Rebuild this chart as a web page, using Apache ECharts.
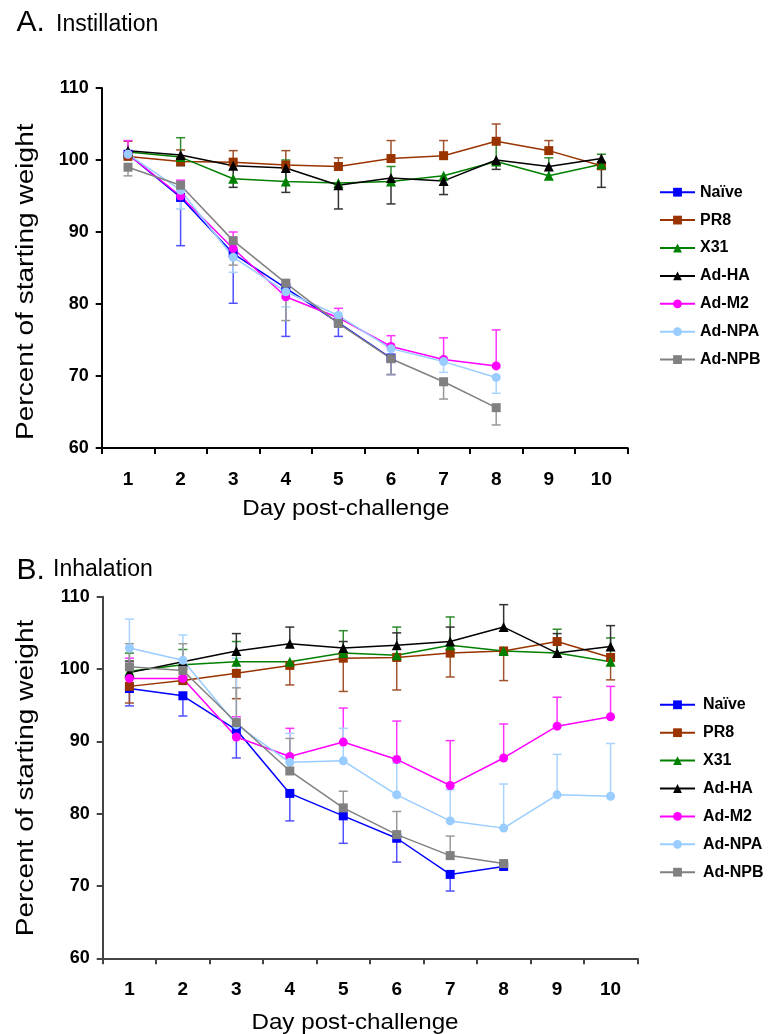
<!DOCTYPE html>
<html>
<head>
<meta charset="utf-8">
<script src="https://cdn.jsdelivr.net/npm/echarts@6/dist/echarts.min.js"></script>
<style>
html,body{margin:0;padding:0;background:#fff;}
#chart{width:768px;height:1034px;}
</style>
</head>
<body>
<div id="chart"></div>
<script>
// ---------- data ----------
const days = ['1','2','3','4','5','6','7','8','9','10'];
const yTicks = [60, 70, 80, 90, 100, 110];
const seriesNames = ['Naïve','PR8','X31','Ad-HA','Ad-M2','Ad-NPA','Ad-NPB'];

// Panel A: Instillation (mean values)
const instNaive = [100.8, 94.8, 87.0, 82.2, 77.4, 72.5, null, null, null, null];
const instPR8   = [100.5, 99.8, 99.7, 99.3, 99.1, 100.2, 100.6, 102.6, 101.3, 99.2];
const instX31   = [101.1, 100.4, 97.4, 97.0, 96.8, 97.0, 97.8, 99.8, 97.8, 99.4];
const instAdHA  = [101.3, 100.7, 99.2, 98.9, 96.5, 97.5, 97.1, 100.0, 99.1, 100.2];
const instAdM2  = [100.8, 95.0, 87.7, 81.0, 78.1, 74.1, 72.3, 71.4, null, null];
const instAdNPA = [100.8, 95.8, 86.5, 81.7, 78.4, 73.8, 72.0, 69.8, null, null];
const instAdNPB = [99.0, 96.5, 88.8, 82.9, 77.3, 72.4, 69.2, 65.6, null, null];
// Panel A: error bar end values (one-sided)
const instNaiveErr = [null, 88.1, 80.1, 75.5, 75.5, 70.2, null, null, null, null];
const instPR8Err   = [102.6, 101.4, 101.3, 101.3, 100.3, 102.7, 102.7, 105.0, 102.7, null];
const instX31Err   = [null, 103.1, null, 100.0, null, 99.1, null, 102.6, 100.3, 100.8];
const instAdHAErr  = [null, 99.2, 96.2, 95.5, 93.2, 93.9, 95.2, 98.7, null, 96.2];
const instAdM2Err  = [102.7, 97.2, 90.0, 82.9, 79.4, 75.6, 75.3, 76.4, null, null];
const instAdNPAErr = [null, 93.2, 84.4, 79.6, null, null, 70.5, 67.6, null, null];
const instAdNPBErr = [97.8, null, 85.4, 77.7, null, 70.2, 66.8, 63.2, null, null];

// Panel B: Inhalation (mean values)
const inhNaive = [97.3, 96.3, 91.6, 82.8, 79.7, 76.6, 71.6, 72.7, null, null];
const inhPR8   = [97.6, 98.4, 99.4, 100.5, 101.5, 101.6, 102.2, 102.5, 103.8, 101.6];
const inhX31   = [99.7, 100.6, 101.0, 101.0, 102.2, 101.9, 103.3, 102.5, 102.2, 101.0];
const inhAdHA  = [99.5, 101.0, 102.5, 103.5, 102.9, 103.3, 103.8, 105.8, 102.2, 103.1];
const inhAdM2  = [98.7, 98.7, 90.6, 87.9, 89.9, 87.5, 83.9, 87.7, 92.1, 93.4];
const inhAdNPA = [102.9, 101.2, 92.3, 87.1, 87.3, 82.6, 79.0, 78.0, 82.6, 82.4];
const inhAdNPB = [100.3, 99.8, 92.6, 85.9, 80.8, 77.1, 74.2, 73.1, null, null];
// Panel B: error bar end values (one-sided)
const inhNaiveErr = [94.9, 93.5, 87.7, 79.0, 75.9, 73.3, 69.3, null, null, null];
const inhPR8Err   = [95.3, null, 95.9, 97.8, 96.9, 97.1, 98.9, 98.4, null, 98.5];
const inhX31Err   = [102.2, 102.7, 103.8, null, 105.3, 105.8, 107.2, null, 105.5, 104.3];
const inhAdHAErr  = [101.1, null, 104.9, 105.8, 103.8, 105.0, 105.8, 108.9, 104.9, 106.0];
const inhAdM2Err  = [101.5, null, 93.4, 91.8, 94.6, 92.8, 90.1, 92.4, 96.1, 97.6];
const inhAdNPAErr = [106.9, 104.7, 101.5, 91.1, 91.8, 87.0, 83.3, 84.1, 88.2, 89.7];
const inhAdNPBErr = [103.5, 103.5, 97.4, 90.4, 83.1, 80.3, 76.9, null, null, null];

// ---------- styling ----------
const FONT = '"Liberation Sans", Arial, Helvetica, sans-serif';
const colors = ['#0000FF', '#993300', '#008000', '#000000', '#FF00FF', '#99CCFF', '#808080'];
const errColors = ['#5050FF', '#A0522D', '#2E8B2E', '#333333', '#FF33FF', '#A8D4FF', '#999999'];
const symbols = ['rect', 'rect', 'triangle', 'triangle', 'circle', 'circle', 'rect'];
const symbolSizes = [9, 9, 10, 10, 9, 9, 9];

const instMeans = [instNaive, instPR8, instX31, instAdHA, instAdM2, instAdNPA, instAdNPB];
const instErrs  = [instNaiveErr, instPR8Err, instX31Err, instAdHAErr, instAdM2Err, instAdNPAErr, instAdNPBErr];
const inhMeans  = [inhNaive, inhPR8, inhX31, inhAdHA, inhAdM2, inhAdNPA, inhAdNPB];
const inhErrs   = [inhNaiveErr, inhPR8Err, inhX31Err, inhAdHAErr, inhAdM2Err, inhAdNPAErr, inhAdNPBErr];

function errRender(color) {
  return function (params, api) {
    const p0 = api.coord([api.value(0), api.value(1)]);
    const p1 = api.coord([api.value(0), api.value(2)]);
    const hw = 4.5;
    return {
      type: 'group',
      children: [
        { type: 'line', shape: { x1: p0[0], y1: p0[1], x2: p1[0], y2: p1[1] }, style: { stroke: color, lineWidth: 1.5 } },
        { type: 'line', shape: { x1: p1[0] - hw, y1: p1[1], x2: p1[0] + hw, y2: p1[1] }, style: { stroke: color, lineWidth: 1.5 } }
      ]
    };
  };
}

function buildSeries(means, errs, axisIdx) {
  const out = [];
  means.forEach((m, i) => {
    const ed = [];
    errs[i].forEach((e, d) => { if (e != null && m[d] != null) ed.push([d, m[d], e]); });
    out.push({
      type: 'custom', name: seriesNames[i] + ' err', xAxisIndex: axisIdx, yAxisIndex: axisIdx,
      renderItem: errRender(errColors[i]), data: ed, z: 1, silent: true,
      encode: { x: 0, y: [1, 2] }
    });
  });
  means.forEach((m, i) => {
    out.push({
      type: 'line', name: seriesNames[i], xAxisIndex: axisIdx, yAxisIndex: axisIdx,
      data: m, symbol: symbols[i], symbolSize: symbolSizes[i], showSymbol: true,
      connectNulls: false, z: 3,
      itemStyle: { color: colors[i], borderWidth: 0 },
      lineStyle: { color: colors[i], width: 1.5 },
      emphasis: { disabled: true }, animation: false
    });
  });
  return out;
}

function xAxisDef(gi, lineColor) {
  return {
    type: 'category', gridIndex: gi, data: days, boundaryGap: true,
    axisLine: { lineStyle: { color: lineColor, width: 2 } },
    axisTick: { show: true, length: 6, lineStyle: { color: lineColor, width: 2 } },
    axisLabel: { margin: 22, color: '#000', fontSize: 19, fontWeight: 'bold', fontFamily: FONT },
    splitLine: { show: false }
  };
}
function yAxisDef(gi, lineColor) {
  return {
    type: 'value', gridIndex: gi, min: yTicks[0], max: yTicks[yTicks.length - 1], interval: 10,
    axisLine: { show: true, lineStyle: { color: lineColor, width: 2 } },
    axisTick: { show: true, length: 6, lineStyle: { color: lineColor, width: 2 } },
    axisLabel: { margin: 13, color: '#000', fontSize: 18, fontWeight: 'bold', fontFamily: FONT },
    splitLine: { show: false }
  };
}

function legendDef(top, textPad) {
  return {
    orient: 'vertical', left: 654, top: top, itemWidth: 35, itemHeight: 11, itemGap: 9.9,
    data: seriesNames,
    textStyle: { fontSize: 16, fontWeight: 'bold', color: '#000', fontFamily: FONT, lineHeight: 18, padding: [0, 0, 0, textPad] },
    selectedMode: false
  };
}

function txt(text, x, y, size, opts) {
  opts = opts || {};
  return {
    type: 'text', x: x, y: y, rotation: opts.rotation || 0,
    scaleX: opts.scaleX || 1, scaleY: 1,
    style: {
      text: text, x: 0, y: 0, fill: '#000',
      font: (opts.weight || 'normal') + ' ' + size + 'px ' + FONT,
      fontSize: size, fontFamily: FONT, fontWeight: opts.weight || 'normal',
      align: opts.align || 'left', verticalAlign: 'middle',
      textAlign: opts.align || 'left', textVerticalAlign: 'middle'
    }
  };
}

const option = {
  backgroundColor: '#fff',
  animation: false,
  grid: [
    { left: 101.7, top: 88, width: 526, height: 360, containLabel: false },
    { left: 102.7, top: 596.7, width: 534.6, height: 361.6, containLabel: false }
  ],
  xAxis: [xAxisDef(0, '#000'), xAxisDef(1, '#444')],
  yAxis: [yAxisDef(0, '#000'), yAxisDef(1, '#444')],
  legend: [legendDef(178.2, 0), legendDef(690.8, 3)],
  graphic: [
    txt('A.', 16.5, 23, 30),
    txt('Instillation', 56, 25, 23),
    txt('B.', 16.5, 570.5, 30),
    txt('Inhalation', 53, 569.5, 23),
    txt('Day post-challenge', 345.8, 509.3, 22, { align: 'center', scaleX: 1.1 }),
    txt('Day post-challenge', 355, 1022.5, 22, { align: 'center', scaleX: 1.1 }),
    txt('Percent of starting weight', 26.7, 281.7, 23, { align: 'center', rotation: Math.PI / 2, scaleX: 1.22 }),
    txt('Percent of starting weight', 26.7, 778, 23, { align: 'center', rotation: Math.PI / 2, scaleX: 1.22 })
  ],
  series: buildSeries(instMeans, instErrs, 0).concat(buildSeries(inhMeans, inhErrs, 1))
};

const chart = echarts.init(document.getElementById('chart'), null, { renderer: 'canvas' });
chart.setOption(option);
</script>
</body>
</html>
